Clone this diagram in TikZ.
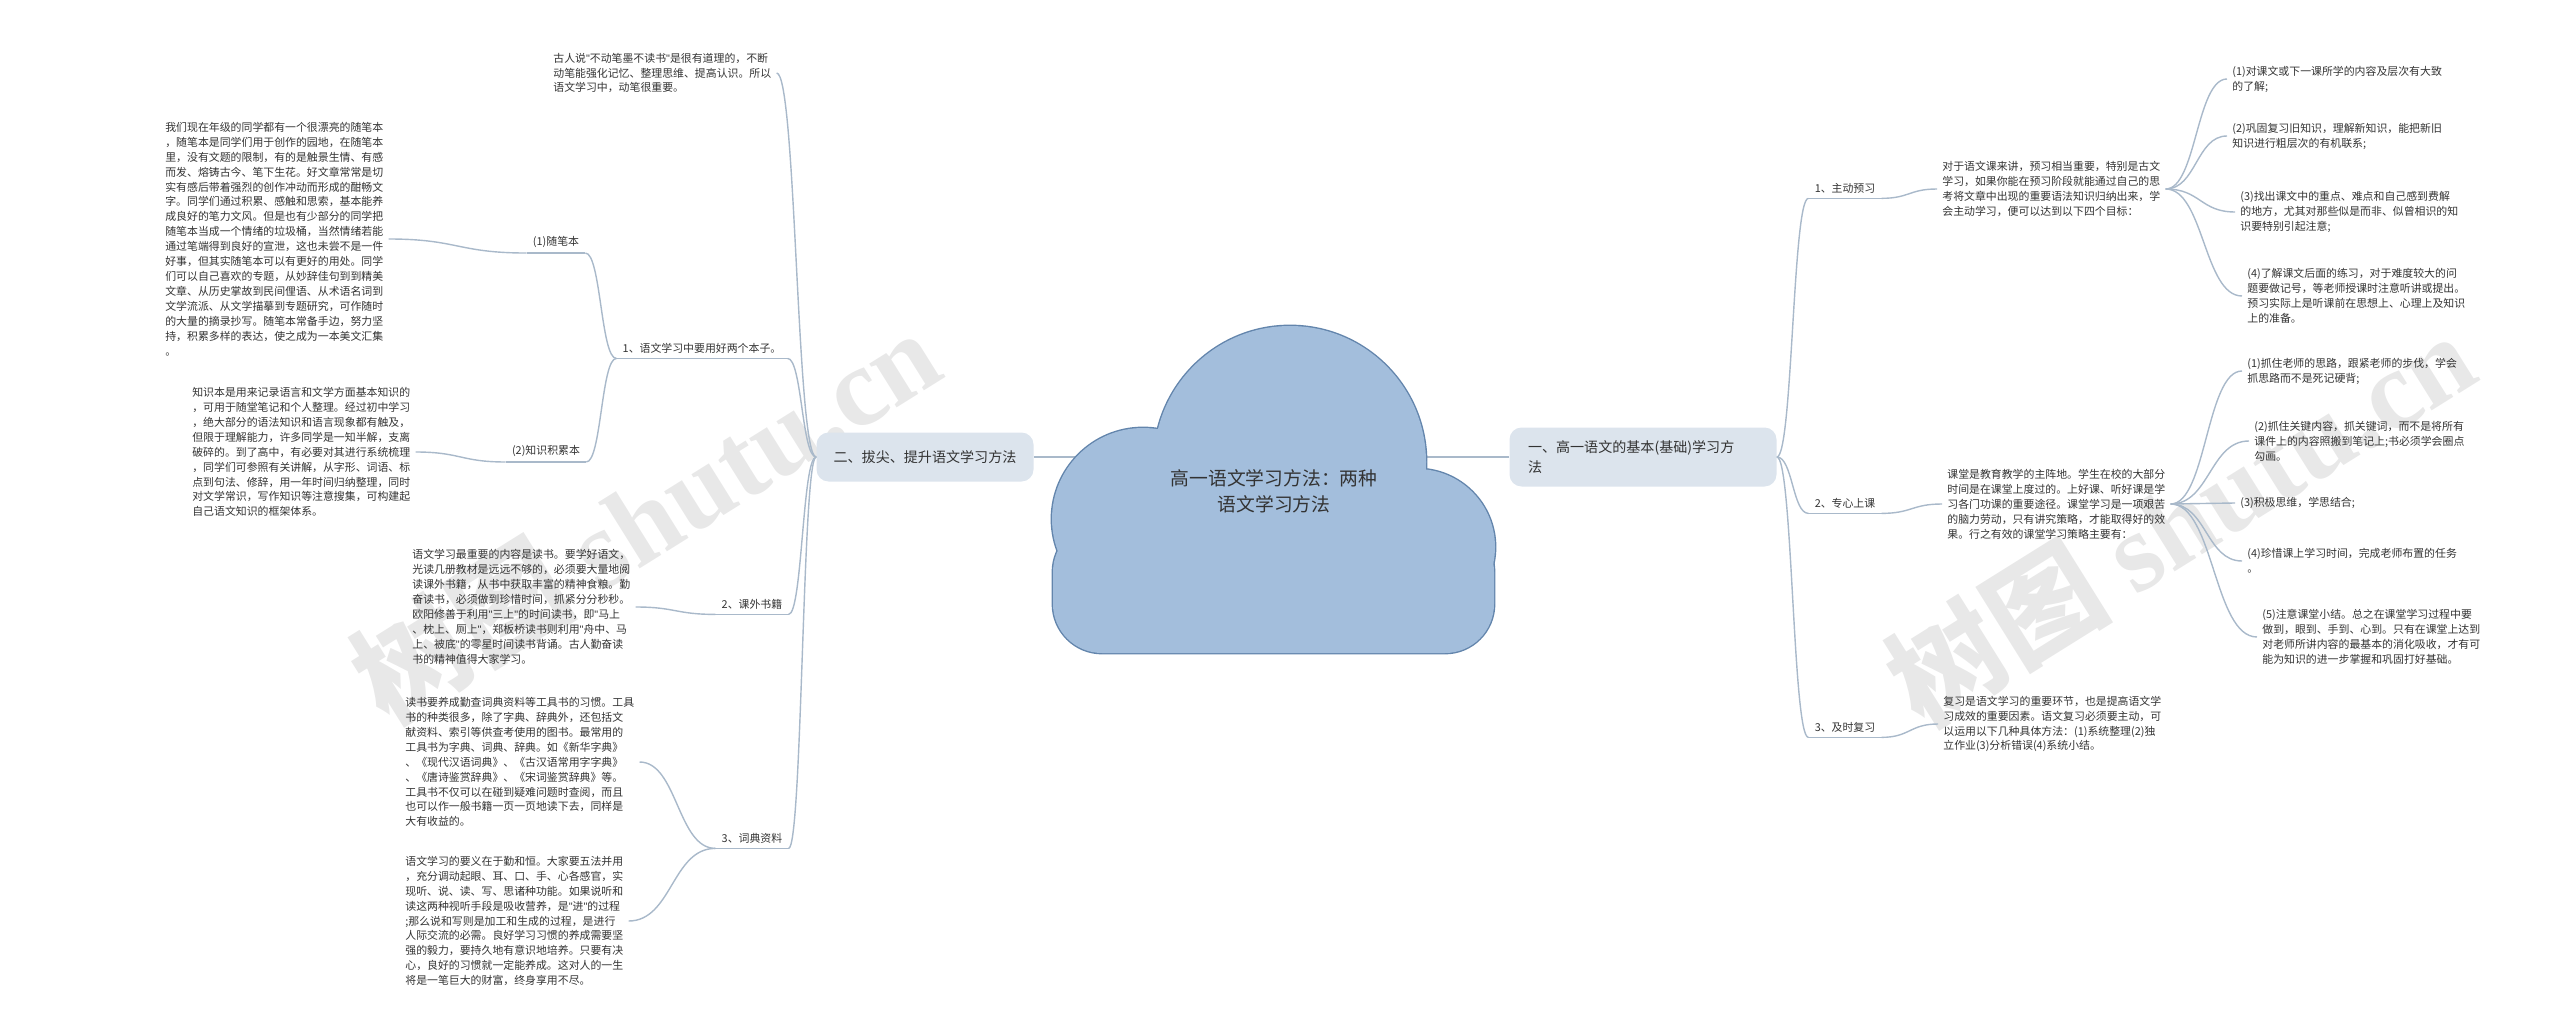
\documentclass[tikz,border=0pt]{standalone}
\usepackage{fontspec}
\setmainfont{Noto Sans CJK SC}
\newfontfamily\latinfont{Liberation Sans}
\newfontfamily\wmfont{Liberation Serif}
\newcommand{\dq}{{\latinfont"}}
\usetikzlibrary{calc}

\definecolor{linkgray}{HTML}{A9B9CA}
\definecolor{cloudfill}{HTML}{A3BEDC}
\definecolor{cloudline}{HTML}{6385AC}
\definecolor{mainfill}{HTML}{DCE4ED}
\definecolor{txtgray}{HTML}{333333}

\begin{document}
\begin{tikzpicture}[x=0.2mm, y=-0.2mm,
    every node/.style={text=txtgray},
    leaf/.style={align=left, inner sep=1mm, font=\fontsize{6.2}{8.5}\selectfont},
    topic/.style={inner xsep=1.2mm, inner ysep=1mm, font=\fontsize{6.2}{8.5}\selectfont},
    branch/.style={fill=mainfill, rounded corners=2.4mm, font=\fontsize{8}{11}\selectfont},
    link/.style={draw=linkgray, line width=0.8pt},
    swing/.style={to path={let \p1=(\tikztostart), \p2=(\tikztotarget) in
        .. controls ({(\x1+\x2)/2},\y1) and ({(\x1+\x2)/2},\y2) .. (\tikztotarget)}},
    wmark/.style={text=black!9, rotate=32, font=\fontsize{64}{64}\selectfont\bfseries}
  ]
  \useasboundingbox (0,0) rectangle (2560,1035);

  % Watermarks
  \node[wmark] (wmleft) at (645,515) {树图 {\wmfont\bfseries shutu.cn}};
  \node[wmark] (wmright) at (2180,518) {树图 {\wmfont\bfseries shutu.cn}};

  % Main branches
  \coordinate (hub) at (1274,457);
  \node[branch, minimum width=43.4mm, minimum height=9.8mm] (left) at (925,457) {二、拔尖、提升语文学习方法};
  \node[branch, minimum height=11.8mm, text width=46mm, inner xsep=3.7mm, align=left] (right) at (1643,457) {一、高一语文的基本(基础)学习方\\法};
  \draw[link] (left.east) -- (hub);
  \draw[link] (right.west) -- (hub);

  % Cloud
  \draw[cloudline, line width=1.6pt, fill=cloudfill] (1143,519) circle (91) (1290,462) circle (136) (1417,547) circle (78);
  \draw[cloudline, line width=1.6pt, fill=cloudfill, rounded corners=9.8mm] (1053,523) rectangle (1494,653);
  \fill[cloudfill] (1143,519) circle (91) (1290,462) circle (136) (1417,547) circle (78);
  \fill[cloudfill, rounded corners=9.8mm] (1053,523) rectangle (1494,653);
  \node[font=\fontsize{10.7}{14.8}\selectfont, align=center] (root) at (1274,491) {高一语文学习方法：两种\\语文学习方法};

  % Left side
  \node[leaf, anchor=west] (topnote) at (548,73) {古人说\dq 不动笔墨不读书\dq 是很有道理的，不断\\动笔能强化记忆、整理思维、提高认识。所以\\语文学习中，动笔很重要。};
  \node[topic] (twobooks) at (702,348) {1、语文学习中要用好两个本子。};
  \node[topic] (suibi) at (556,242) {(1)随笔本};
  \node[topic] (zhishi) at (546,451) {(2)知识积累本};
  \node[topic] (kewai) at (752,604) {2、课外书籍};
  \node[topic] (cidian) at (752,838) {3、词典资料};

  \node[leaf, anchor=west] (essay) at (160,239) {我们现在年级的同学都有一个很漂亮的随笔本\\，随笔本是同学们用于创作的园地，在随笔本\\里，没有文题的限制，有的是触景生情、有感\\而发、熔铸古今、笔下生花。好文章常常是切\\实有感后带着强烈的创作冲动而形成的酣畅文\\字。同学们通过积累、感触和思索，基本能养\\成良好的笔力文风。但是也有少部分的同学把\\随笔本当成一个情绪的垃圾桶，当然情绪若能\\通过笔端得到良好的宣泄，这也未尝不是一件\\好事，但其实随笔本可以有更好的用处。同学\\们可以自己喜欢的专题，从妙辞佳句到到精美\\文章、从历史掌故到民间俚语、从术语名词到\\文学流派、从文学描摹到专题研究，可作随时\\的大量的摘录抄写。随笔本常备手边，努力坚\\持，积累多样的表达，使之成为一本美文汇集\\。};
  \node[leaf, anchor=west] (knowbook) at (187,452) {知识本是用来记录语言和文学方面基本知识的\\，可用于随堂笔记和个人整理。经过初中学习\\，绝大部分的语法知识和语言现象都有触及，\\但限于理解能力，许多同学是一知半解，支离\\破碎的。到了高中，有必要对其进行系统梳理\\，同学们可参照有关讲解，从字形、词语、标\\点到句法、修辞，用一年时间归纳整理，同时\\对文学常识，写作知识等注意搜集，可构建起\\自己语文知识的框架体系。};
  \node[leaf, anchor=west] (reading) at (407,607) {语文学习最重要的内容是读书。要学好语文，\\光读几册教材是远远不够的，必须要大量地阅\\读课外书籍，从书中获取丰富的精神食粮。勤\\奋读书，必须做到珍惜时间，抓紧分分秒秒。\\欧阳修善于利用\dq 三上\dq 的时间读书，即\dq 马上\\、枕上、厕上\dq ，郑板桥读书则利用\dq 舟中、马\\上、被底\dq 的零星时间读书背诵。古人勤奋读\\书的精神值得大家学习。};
  \node[leaf, anchor=west] (dict) at (400,762) {读书要养成勤查词典资料等工具书的习惯。工具\\书的种类很多，除了字典、辞典外，还包括文\\献资料、索引等供查考使用的图书。最常用的\\工具书为字典、词典、辞典。如《新华字典》\\、《现代汉语词典》、《古汉语常用字字典》\\、《唐诗鉴赏辞典》、《宋词鉴赏辞典》等。\\工具书不仅可以在碰到疑难问题时查阅，而且\\也可以作一般书籍一页一页地读下去，同样是\\大有收益的。};
  \node[leaf, anchor=west] (habit) at (400,921) {语文学习的要义在于勤和恒。大家要五法并用\\，充分调动起眼、耳、口、手、心各感官，实\\现听、说、读、写、思诸种功能。如果说听和\\读这两种视听手段是吸收营养，是\dq 进\dq 的过程\\;那么说和写则是加工和生成的过程，是进行\\人际交流的必需。良好学习习惯的养成需要坚\\强的毅力，要持久地有意识地培养。只要有决\\心，良好的习惯就一定能养成。这对人的一生\\将是一笔巨大的财富，终身享用不尽。};

  \foreach \t in {twobooks, suibi, zhishi, kewai, cidian}
    \draw[link] (\t.south west) -- (\t.south east);

  \draw[link] (left.west) to[swing] (topnote.east);
  \draw[link] (left.west) to[swing] (twobooks.south east);
  \draw[link] (left.west) to[swing] (kewai.south east);
  \draw[link] (left.west) to[swing] (cidian.south east);
  \draw[link] (twobooks.south west) to[swing] (suibi.south east);
  \draw[link] (twobooks.south west) to[swing] (zhishi.south east);
  \draw[link] (suibi.south west) to[swing] (essay.east);
  \draw[link] (zhishi.south west) to[swing] (knowbook.east);
  \draw[link] (kewai.south west) to[swing] (reading.east);
  \draw[link] (cidian.south west) to[swing] (dict.east);
  \draw[link] (cidian.south west) to[swing] (habit.east);

  % Right side
  \node[topic] (yuxi) at (1845,188) {1、主动预习};
  \node[topic] (shangke) at (1845,503) {2、专心上课};
  \node[topic] (fuxi) at (1845,727) {3、及时复习};

  \node[leaf, anchor=west] (preview) at (1937,189) {对于语文课来讲，预习相当重要，特别是古文\\学习，如果你能在预习阶段就能通过自己的思\\考将文章中出现的重要语法知识归纳出来，学\\会主动学习，便可以达到以下四个目标：};
  \node[leaf, anchor=west] (lesson) at (1942,504) {课堂是教育教学的主阵地。学生在校的大部分\\时间是在课堂上度过的。上好课、听好课是学\\习各门功课的重要途径。课堂学习是一项艰苦\\的脑力劳动，只有讲究策略，才能取得好的效\\果。行之有效的课堂学习策略主要有：};
  \node[leaf, anchor=west] (review) at (1938,724) {复习是语文学习的重要环节，也是提高语文学\\习成效的重要因素。语文复习必须要主动，可\\以运用以下几种具体方法：(1)系统整理(2)独\\立作业(3)分析错误(4)系统小结。};

  \node[leaf, anchor=west] (pa) at (2227,79) {(1)对课文或下一课所学的内容及层次有大致\\的了解;};
  \node[leaf, anchor=west] (pb) at (2227,136) {(2)巩固复习旧知识，理解新知识，能把新旧\\知识进行粗层次的有机联系;};
  \node[leaf, anchor=west] (pc) at (2235,212) {(3)找出课文中的重点、难点和自己感到费解\\的地方，尤其对那些似是而非、似曾相识的知\\识要特别引起注意;};
  \node[leaf, anchor=west] (pd) at (2242,296) {(4)了解课文后面的练习，对于难度较大的问\\题要做记号，等老师授课时注意听讲或提出。\\预习实际上是听课前在思想上、心理上及知识\\上的准备。};

  \node[leaf, anchor=west] (ca) at (2242,371) {(1)抓住老师的思路，跟紧老师的步伐，学会\\抓思路而不是死记硬背;};
  \node[leaf, anchor=west] (cb) at (2249,441) {(2)抓住关键内容，抓关键词，而不是将所有\\课件上的内容照搬到笔记上;书必须学会圈点\\勾画。};
  \node[leaf, anchor=west] (cc) at (2235,503) {(3)积极思维，学思结合;};
  \node[leaf, anchor=west] (cd) at (2242,561) {(4)珍惜课上学习时间，完成老师布置的任务\\。};
  \node[leaf, anchor=west] (ce) at (2257,637) {(5)注意课堂小结。总之在课堂学习过程中要\\做到，眼到、手到、心到。只有在课堂上达到\\对老师所讲内容的最基本的消化吸收，才有可\\能为知识的进一步掌握和巩固打好基础。};

  \foreach \t in {yuxi, shangke, fuxi}
    \draw[link] (\t.south west) -- (\t.south east);

  \draw[link] (right.east) to[swing] (yuxi.south west);
  \draw[link] (right.east) to[swing] (shangke.south west);
  \draw[link] (right.east) to[swing] (fuxi.south west);
  \draw[link] (yuxi.south east) to[swing] (preview.west);
  \draw[link] (shangke.south east) to[swing] (lesson.west);
  \draw[link] (fuxi.south east) to[swing] (review.west);
  \foreach \t in {pa, pb, pc, pd}
    \draw[link] (preview.east) to[swing] (\t.west);
  \foreach \t in {ca, cb, cc, cd, ce}
    \draw[link] (lesson.east) to[swing] (\t.west);
\end{tikzpicture}
\end{document}
